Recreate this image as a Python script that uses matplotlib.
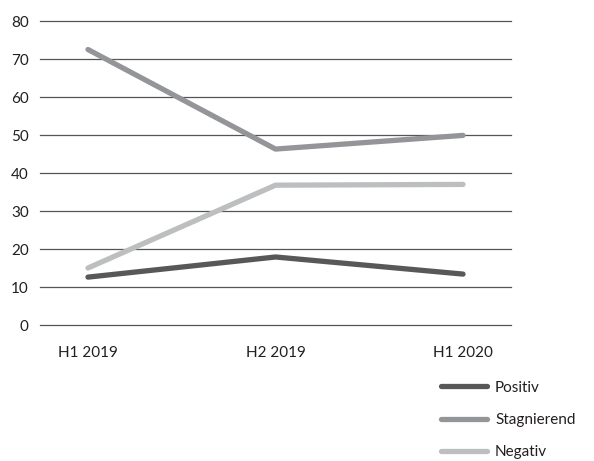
import matplotlib
matplotlib.use('Agg')
import matplotlib.pyplot as plt
import numpy as np

# ── Data ────────────────────────────────────────────────────────────
periods = ['H1 2019', 'H2 2019', 'H1 2020']
positiv = [12.6, 17.9, 13.4]
stagnierend = [72.5, 46.3, 49.9]
negativ = [15.0, 36.8, 37.0]
yticks = [0, 10, 20, 30, 40, 50, 60, 70, 80]

C_TEXT = '#231f20'
C_GRID = '#555555'
C_POS = '#58585a'
C_STAG = '#939598'
C_NEG = '#bcbec0'

plt.rcParams.update({
    'font.family': ['Lato', 'DejaVu Sans'],
    'font.size': 11,
    'text.color': C_TEXT,
    'xtick.color': C_TEXT,
    'ytick.color': C_TEXT,
})

fig = plt.figure(figsize=(5.94, 4.61), dpi=100)
ax = fig.add_axes([0.0673, 0.295, 0.793, 0.6594])

x = np.arange(len(periods))
lw = 3.8
ax.plot(x, positiv, color=C_POS, lw=lw, solid_capstyle='round', solid_joinstyle='round', label='Positiv', zorder=3)
ax.plot(x, stagnierend, color=C_STAG, lw=lw, solid_capstyle='round', solid_joinstyle='round', label='Stagnierend', zorder=3)
ax.plot(x, negativ, color=C_NEG, lw=lw, solid_capstyle='round', solid_joinstyle='round', label='Negativ', zorder=3)

ax.set_xlim(-0.256, 2.256)
ax.set_ylim(0, 80)
ax.set_yticks(yticks)
ax.set_xticks(x)
ax.set_xticklabels(periods)
ax.tick_params(axis='both', length=0)
ax.tick_params(axis='y', pad=8)
ax.tick_params(axis='x', pad=15)
ax.grid(axis='y', color=C_GRID, lw=0.9)
for gl in ax.get_ygridlines():
    gl.set_clip_on(False)
ax.set_axisbelow(True)
for s in ax.spines.values():
    s.set_visible(False)

fig.legend(loc='upper left', bbox_to_anchor=(0.742, 0.174), frameon=False,
           handlelength=3.0, handletextpad=0.55, labelspacing=1.2,
           borderpad=0, borderaxespad=0)

fig.savefig('out.png', dpi=100)
